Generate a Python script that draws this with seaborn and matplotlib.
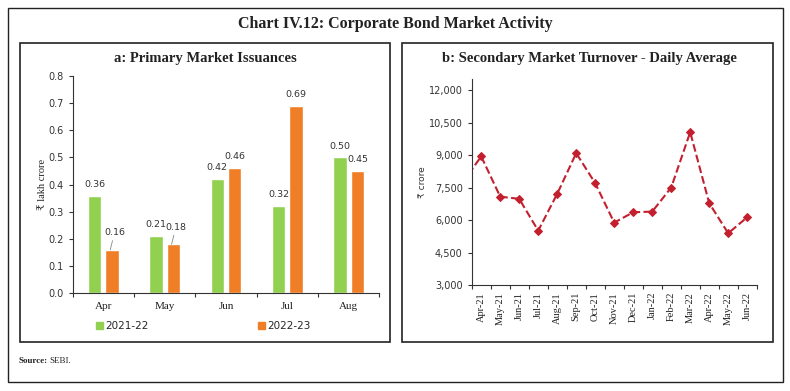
import numpy as np
import pandas as pd
import matplotlib
matplotlib.use('Agg')
import matplotlib.pyplot as plt
from matplotlib.patches import Rectangle
import seaborn as sns

# panel a data
months_a = ['Apr', 'May', 'Jun', 'Jul', 'Aug']
fy_2122 = [0.36, 0.21, 0.42, 0.32, 0.50]
fy_2223 = [0.16, 0.18, 0.46, 0.69, 0.45]
series_a = ['2021-22', '2022-23']

# panel b data (Mar-21 lies left of the axis and is clipped)
months_b = ['Mar-21', 'Apr-21', 'May-21', 'Jun-21', 'Jul-21', 'Aug-21', 'Sep-21', 'Oct-21',
            'Nov-21', 'Dec-21', 'Jan-22', 'Feb-22', 'Mar-22', 'Apr-22', 'May-22', 'Jun-22']
turnover = [7700, 8940, 7080, 6980, 5510, 7210, 9090, 7700,
            5880, 6360, 6390, 7500, 10060, 6780, 5390, 6130]
yticks_b = [3000, 4500, 6000, 7500, 9000, 10500, 12000]

GREEN = '#92D050'
ORANGE = '#F07E26'
RED = '#C3202F'
SERIF = ['Liberation Serif', 'DejaVu Serif']
SANS = ['DejaVu Sans']

sns.set_style('ticks')
plt.rcParams['font.family'] = SERIF

W, H = 790, 391
fig = plt.figure(figsize=(W / 100, H / 100), dpi=100)


def fx(px):
    return px / W


def fy(py):
    return 1 - py / H


def box(x0, y0, x1, y1, lw=1.2):
    fig.patches.append(Rectangle((fx(x0), fy(y1)), fx(x1 - x0), (y1 - y0) / H,
                                 transform=fig.transFigure, fill=False, ec='#222222', lw=lw))


box(8, 8, 783, 382, lw=1.0)
box(19.5, 42.5, 389.5, 341.5)
box(401.5, 42.5, 772.5, 341.5)

fig.text(0.5, fy(24), 'Chart IV.12: Corporate Bond Market Activity', ha='center', va='center',
         fontsize=11.5, fontweight='bold', color='#222222')
fig.text(fx(205), fy(58.5), 'a: Primary Market Issuances', ha='center', va='center',
         fontsize=10.5, fontweight='bold', color='#222222')
fig.text(fx(589), fy(58.5), 'b: Secondary Market Turnover - Daily Average', ha='center', va='center',
         fontsize=10.5, fontweight='bold', color='#222222')
fig.text(fx(19), fy(361), 'Source:', ha='left', va='center', fontsize=6.5, fontweight='bold')
fig.text(fx(49), fy(361), 'SEBI.', ha='left', va='center', fontsize=6.5)

# ---- panel a
ax1 = fig.add_axes([fx(72.7), fy(293.3), fx(379.3 - 72.7), (293.3 - 76) / H])
df = pd.DataFrame({'month': months_a * 2,
                   'value': fy_2122 + fy_2223,
                   'series': [series_a[0]] * 5 + [series_a[1]] * 5})
sns.barplot(data=df, x='month', y='value', hue='series', palette=[GREEN, ORANGE],
            width=0.57, gap=0.24, ax=ax1, legend=True, saturation=1)
ax1.set_xlim(-0.5, 4.5)
ax1.set_ylim(0, 0.8)
ax1.set_yticks(np.arange(0, 0.81, 0.1))
ax1.set_yticklabels([f'{v:.1f}' for v in np.arange(0, 0.81, 0.1)], family=SANS, fontsize=7, color='#333333')
ax1.set_xticks(np.arange(-0.5, 4.6, 1))
ax1.set_xticklabels([])
ax1.set_xticks(range(5), minor=True)
ax1.set_xticklabels(months_a, minor=True, fontsize=8, color='#222222')
ax1.tick_params(axis='x', which='minor', length=0, pad=6)
ax1.tick_params(axis='both', which='major', length=3, width=0.8, color='#333333')
ax1.set_xlabel('')
ax1.set_ylabel('₹ lakh crore', fontsize=7.5, color='#222222', labelpad=1)
for s in ['top', 'right']:
    ax1.spines[s].set_visible(False)
for s in ['left', 'bottom']:
    ax1.spines[s].set_color('#333333')
    ax1.spines[s].set_linewidth(0.8)

bars = [p for p in ax1.patches if p.get_height() > 0]
vals = fy_2122 + fy_2223
for p, v in zip(bars, vals):
    xc = p.get_x() + p.get_width() / 2
    if v in (0.16, 0.18):
        ax1.annotate(f'{v:.2f}', (xc - 0.03, v), xytext=(3, 9), textcoords='offset points',
                     ha='center', va='bottom', fontsize=6.8, family=SANS, color='#333333',
                     arrowprops=dict(arrowstyle='-', color='#888888', lw=0.6, shrinkA=0, shrinkB=0))
    elif v == 0.21:
        ax1.annotate(f'{v:.2f}', (xc, v), xytext=(0, 5), textcoords='offset points',
                     ha='center', va='bottom', fontsize=6.8, family=SANS, color='#333333')
    else:
        ax1.annotate(f'{v:.2f}', (xc, v), xytext=(0, 5), textcoords='offset points',
                     ha='center', va='bottom', fontsize=6.8, family=SANS, color='#333333')

ax1.get_legend().remove()
handles = [Rectangle((0, 0), 1, 1, color=GREEN), Rectangle((0, 0), 1, 1, color=ORANGE)]
fig.legend(handles, series_a, loc='center', bbox_to_anchor=(fx(203), fy(326)), ncol=2,
           frameon=False, handlelength=0.7, handleheight=0.7, handletextpad=0.2,
           columnspacing=10.5, prop={'family': SANS, 'size': 7.5})

# ---- panel b
ax2 = fig.add_axes([fx(471.7), fy(285), fx(756.7 - 471.7), (285 - 79.3) / H])
xb = np.arange(-1, len(months_b) - 1)
sns.lineplot(x=xb, y=turnover, ax=ax2, color=RED, linestyle='--', lw=1.5,
             marker='D', markersize=4.5, markeredgecolor=RED)
ax2.set_xlim(-0.5, len(months_b) - 1.5)
ax2.set_ylim(3000, 12500)
ax2.set_yticks(yticks_b)
ax2.set_yticklabels([f'{v:,}' for v in yticks_b], family=SANS, fontsize=7, color='#333333')
ax2.set_xticks(np.arange(-0.5, len(months_b) - 1, 1))
ax2.set_xticklabels([])
ax2.set_xticks(range(len(months_b) - 1), minor=True)
ax2.set_xticklabels(months_b[1:], minor=True, rotation=90, fontsize=7.5, color='#222222')
ax2.tick_params(axis='x', which='minor', length=0, pad=5)
ax2.tick_params(axis='both', which='major', length=3, width=0.8, color='#333333')
ax2.set_ylabel('₹ crore', family=SANS, fontsize=6.5, color='#333333', labelpad=1)
for s in ['top', 'right']:
    ax2.spines[s].set_visible(False)
for s in ['left', 'bottom']:
    ax2.spines[s].set_color('#333333')
    ax2.spines[s].set_linewidth(0.8)

fig.savefig('out.png', dpi=100)
